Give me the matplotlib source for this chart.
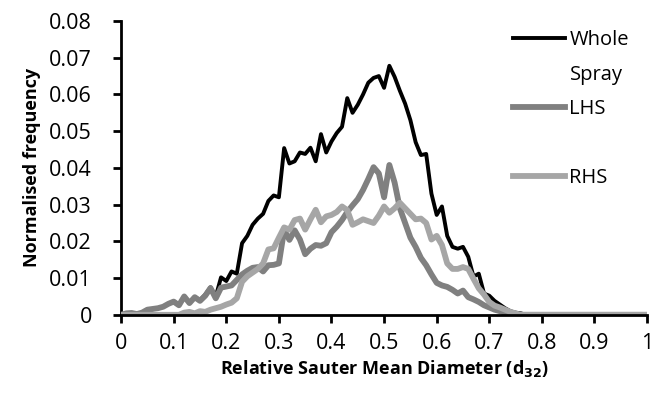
import numpy as np
import matplotlib.pyplot as plt
from matplotlib.lines import Line2D

plt.rcParams['font.family'] = ['Open Sans', 'DejaVu Sans']

# relative Sauter mean diameter, step 0.01
d32 = np.round(np.arange(0, 1.001, 0.01), 2)

whole = [0, 0.0003, 0.0005, 0.0003, 0.0005, 0.0013, 0.0015, 0.0018, 0.0022, 0.003,
         0.0036, 0.0028, 0.005, 0.0033, 0.0048, 0.004, 0.0055, 0.0075, 0.005, 0.0102,
         0.0092, 0.0118, 0.0112, 0.0195, 0.0215, 0.0245, 0.0262, 0.0275, 0.031, 0.0325,
         0.032, 0.0454, 0.0412, 0.0418, 0.0442, 0.0438, 0.0455, 0.0418, 0.0492, 0.0442,
         0.0472, 0.0495, 0.0512, 0.059, 0.055, 0.0572, 0.06, 0.0632, 0.0645, 0.065,
         0.0618, 0.0678, 0.0648, 0.061, 0.0575, 0.053, 0.047, 0.0435, 0.0438, 0.033,
         0.0272, 0.0295, 0.0215, 0.0185, 0.018, 0.0185, 0.0158, 0.0104, 0.0112, 0.0058,
         0.0052, 0.0038, 0.0028, 0.0018, 0.001, 0.0006, 0.0004] + [0] * 24

lhs = [0, 0.0004, 0.0005, 0.0002, 0.0006, 0.0014, 0.0016, 0.0018, 0.0022, 0.003,
       0.0036, 0.0026, 0.005, 0.0032, 0.0048, 0.0038, 0.0052, 0.0073, 0.0045, 0.0074,
       0.0077, 0.008, 0.0095, 0.011, 0.012, 0.0128, 0.013, 0.0118, 0.0135, 0.0136,
       0.014, 0.0231, 0.0204, 0.023, 0.0205, 0.0165, 0.018, 0.019, 0.0188, 0.0195,
       0.0225, 0.024, 0.0258, 0.028, 0.0298, 0.0315, 0.034, 0.037, 0.0402, 0.0385,
       0.032, 0.0408, 0.036, 0.029, 0.025, 0.021, 0.0185, 0.0155, 0.0135, 0.011,
       0.0087, 0.008, 0.0076, 0.0068, 0.0058, 0.0066, 0.0048, 0.0042, 0.0035, 0.0026,
       0.002, 0.0014, 0.001, 0.0005, 0.0002] + [0] * 26

rhs = [0] * 12 + [0.0006, 0.0008, 0.0004, 0.001, 0.0008, 0.0014, 0.0018, 0.0022,
       0.0028, 0.0033, 0.0045, 0.009, 0.0105, 0.0115, 0.0125, 0.014, 0.0178, 0.0181,
       0.021, 0.0238, 0.0232, 0.0258, 0.0262, 0.0232, 0.026, 0.0286, 0.0252, 0.0268,
       0.0272, 0.028, 0.0295, 0.0285, 0.0245, 0.0252, 0.026, 0.0255, 0.025, 0.027,
       0.0295, 0.0278, 0.029, 0.0305, 0.029, 0.0275, 0.026, 0.0262, 0.025, 0.0205,
       0.0215, 0.019, 0.014, 0.0125, 0.0125, 0.013, 0.0125, 0.0098, 0.0072, 0.0055,
       0.0035, 0.0025, 0.002, 0.0014, 0.0008, 0.0004] + [0] * 25

fig = plt.figure(figsize=(6.51, 3.96), dpi=100)
ax = fig.add_axes([0.186, 0.205, 0.808, 0.742])

ax.plot(d32, whole, color='black', lw=2.8, label='Whole')
ax.plot(d32, lhs, color='#808080', lw=4.2, label='LHS')
ax.plot(d32, rhs, color='#a6a6a6', lw=4.2, label='RHS')

ax.set_xlim(0, 1)
ax.set_ylim(0, 0.08)
ax.set_xticks(np.arange(0, 1.01, 0.1))
ax.set_xticklabels(['0', '0.1', '0.2', '0.3', '0.4', '0.5', '0.6', '0.7', '0.8', '0.9', '1'])
ax.set_yticks(np.arange(0, 0.081, 0.01))
ax.set_yticklabels(['0', '0.01', '0.02', '0.03', '0.04', '0.05', '0.06', '0.07', '0.08'])
ax.tick_params(labelsize=15.5, width=2, length=6, direction='out')
ax.tick_params(axis='x', pad=7)
ax.tick_params(axis='y', pad=15)
for s in ['top', 'right']:
    ax.spines[s].set_visible(False)
for s in ['left', 'bottom']:
    ax.spines[s].set_linewidth(2)
ax.spines['left'].set_zorder(0.5)

ax.set_xlabel('Relative Sauter Mean Diameter (d$_{\\mathbf{32}}$)', fontsize=13,
              fontweight='bold', labelpad=3)
ax.set_ylabel('Normalised frequency', fontsize=13, fontweight='bold', labelpad=6)

h = ax.get_lines()
blank = Line2D([], [], color='none')
ax.legend([h[0], blank, h[1], blank, h[2]], ['Whole', 'Spray', 'LHS', ' ', 'RHS'],
          loc='upper right', bbox_to_anchor=(1.0, 1.03), frameon=False, fontsize=14.5,
          handlelength=2.6, handletextpad=0.2, labelspacing=0.72)

fig.savefig('out.png', dpi=100)
